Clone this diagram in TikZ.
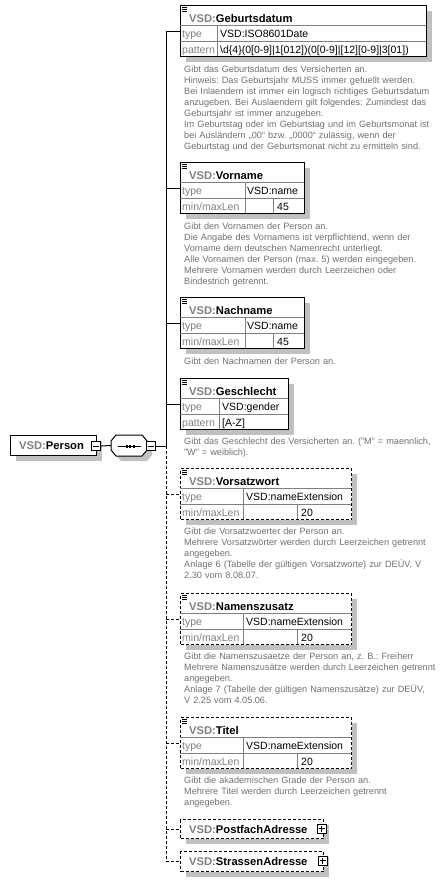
\documentclass[tikz,border=0pt]{standalone}
\usepackage{fontspec}
\setmainfont{Liberation Sans}
\usetikzlibrary{shadows}
\definecolor{txtgray}{HTML}{808080}
\definecolor{descgray}{HTML}{707070}
\definecolor{shgray}{HTML}{C0C0C0}
\definecolor{linegray}{HTML}{808080}
\frenchspacing
\newcommand\tablelines[4]{% T, L, R, c1
  \draw[rowline] (#2,#1+20) -- (#3,#1+20);
  \draw[rowline] (#2,#1+36) -- (#3,#1+36);
  \draw[rowline] (#4,#1+20) -- (#4,#1+51);
}
\newcommand\elicon[2]{% L, T
  \foreach \k in {2.5,4.5,6.5} \draw[line width=0.8pt] (#1+2,#2+\k) -- (#1+7,#2+\k);
}
\begin{document}
\frenchspacing
\begin{tikzpicture}[x=1pt,y=-1pt,
  shade5/.style={drop shadow={shadow xshift=5pt,shadow yshift=-5pt,opacity=1,fill=shgray}},
  elem/.style={draw=black, line width=1pt, fill=white, rectangle, inner sep=0pt, anchor=north west, shade5},
  optelem/.style={elem, dash pattern=on 3pt off 2pt},
  rowline/.style={draw=linegray, line width=1pt},
  hdr/.style={anchor=base west, inner sep=0pt, font=\fontsize{11.2}{13}\selectfont\bfseries},
  lbl/.style={anchor=base west, inner sep=0pt, text=txtgray, font=\fontsize{10.5}{12}\selectfont},
  val/.style={anchor=base west, inner sep=0pt, font=\fontsize{10.5}{12}\selectfont},
  desc/.style={anchor=base west, inner sep=0pt, align=left, text width=258pt, text=descgray, font=\fontsize{9.15}{11}\selectfont\frenchspacing},
  conn/.style={line width=1pt},
  optconn/.style={line width=1pt, dash pattern=on 3pt off 2pt},
  smallbox/.style={draw=black, line width=1pt, fill=white, minimum size=9pt, inner sep=0pt},
]
\useasboundingbox (0,0) rectangle (442,881);

% ---- vertical bus ----
\coordinate (vtop) at (166,31);
\coordinate (vmid) at (166,446);
\coordinate (vbot) at (166,861);
\draw[conn] (vtop) -- (vmid);
\draw[optconn] (vmid) -- (vbot);

% ---- Person ----
\node[elem, minimum width=86pt, minimum height=20pt] (person) at (10,435) {};
\node[hdr] (person-t) at (19,449.5) {\textcolor{txtgray}{VSD:}Person};
\node[smallbox] (pm) at (96,446) {};
\draw[line width=1pt] ([xshift=2pt]pm.west) -- ([xshift=-2pt]pm.east);

% sequence compositor (octagon)
\node[inner sep=0pt, minimum width=36pt, minimum height=21pt] (seq) at (129,445.5) {};
\draw[line width=1pt, fill=white, shade5] (111,441) -- (116,435) -- (142,435) -- (147,441) -- (147,450) -- (142,456) -- (116,456) -- (111,450) -- cycle;
\draw[line width=1pt] (118,446) -- (141,446);
\foreach \dx in {126.5,130,133.5} \fill (\dx-1,444.5) rectangle (\dx+1,447.5);
\node[smallbox] (sm) at (151,446) {};
\draw[line width=1pt] ([xshift=2pt]sm.west) -- ([xshift=-2pt]sm.east);
\draw[conn] (pm.east) -- (seq.west);
\draw[conn] (sm.east) -- (vmid);

% ---- Geburtsdatum ----
\node[elem, minimum width=246pt, minimum height=51pt] (geb) at (180,5) {};
\tablelines{5}{180}{426}{217}
\elicon{180}{5}
\node[hdr] (geb-h) at (189,22.5) {\textcolor{txtgray}{VSD:}Geburtsdatum};
\node[lbl] (geb-l1) at (182,37.5) {type};
\node[val] (geb-v1) at (220,37.5) {VSD:ISO8601Date};
\node[lbl] (geb-l2) at (182,53) {pattern};
\node[val] (geb-v2) at (220,53) {\textbackslash d\{4\}(0[0-9]|1[012])(0[0-9]|[12][0-9]|3[01])};
\coordinate (j1) at (166,31);
\draw[conn] (j1) -- (j1 -| geb.west);
\node[desc] (geb-d) at (184,72.5) {Gibt das Geburtsdatum des Versicherten an.\\
Hinweis: Das Geburtsjahr MUSS immer gefuellt werden.\\
Bei Inlaendern ist immer ein logisch richtiges Geburtsdatum\\
anzugeben. Bei Auslaendern gilt folgendes: Zumindest das\\
Geburtsjahr ist immer anzugeben.\\
Im Geburtstag oder im Geburtstag und im Geburtsmonat ist\\
bei Ausländern „00“ bzw. „0000“ zulässig, wenn der\\
Geburtstag und der Geburtsmonat nicht zu ermitteln sind.};

% ---- Vorname ----
\node[elem, minimum width=124pt, minimum height=51pt] (vor) at (180,162) {};
\tablelines{162}{180}{304}{245}
\draw[rowline] (273,198) -- (273,213);
\elicon{180}{162}
\node[hdr] (vor-h) at (189,179.5) {\textcolor{txtgray}{VSD:}Vorname};
\node[lbl] (vor-l1) at (182,194.5) {type};
\node[val] (vor-v1) at (247,194.5) {VSD:name};
\node[lbl] (vor-l2) at (182,210) {min/maxLen};
\node[val] (vor-v2) at (277,210) {45};
\coordinate (j2) at (166,188);
\draw[conn] (j2) -- (j2 -| vor.west);
\node[desc] (vor-d) at (184,229.5) {Gibt den Vornamen der Person an.\\
Die Angabe des Vornamens ist verpflichtend, wenn der\\
Vorname dem deutschen Namenrecht unterliegt.\\
Alle Vornamen der Person (max. 5) werden eingegeben.\\
Mehrere Vornamen werden durch Leerzeichen oder\\
Bindestrich getrennt.};

% ---- Nachname ----
\node[elem, minimum width=124pt, minimum height=51pt] (nach) at (180,297) {};
\tablelines{297}{180}{304}{245}
\draw[rowline] (273,333) -- (273,348);
\elicon{180}{297}
\node[hdr] (nach-h) at (189,314.5) {\textcolor{txtgray}{VSD:}Nachname};
\node[lbl] (nach-l1) at (182,329.5) {type};
\node[val] (nach-v1) at (247,329.5) {VSD:name};
\node[lbl] (nach-l2) at (182,345) {min/maxLen};
\node[val] (nach-v2) at (277,345) {45};
\coordinate (j3) at (166,323);
\draw[conn] (j3) -- (j3 -| nach.west);
\node[desc] (nach-d) at (184,364) {Gibt den Nachnamen der Person an.};

% ---- Geschlecht ----
\node[elem, minimum width=108pt, minimum height=51pt] (ges) at (180,378) {};
\tablelines{378}{180}{288}{219}
\elicon{180}{378}
\node[hdr] (ges-h) at (189,395.5) {\textcolor{txtgray}{VSD:}Geschlecht};
\node[lbl] (ges-l1) at (182,410.5) {type};
\node[val] (ges-v1) at (222,410.5) {VSD:gender};
\node[lbl] (ges-l2) at (182,426) {pattern};
\node[val] (ges-v2) at (222,426) {[A-Z]};
\coordinate (j4) at (166,404);
\draw[conn] (j4) -- (j4 -| ges.west);
\node[desc] (ges-d) at (184,444.5) {Gibt das Geschlecht des Versicherten an. ("M" = maennlich,\\
"W" = weiblich).};

% ---- Vorsatzwort ----
\node[optelem, minimum width=171pt, minimum height=51pt] (vsw) at (180,468) {};
\tablelines{468}{180}{351}{243}
\draw[rowline] (297,504) -- (297,519);
\elicon{180}{468}
\node[hdr] (vsw-h) at (189,485.5) {\textcolor{txtgray}{VSD:}Vorsatzwort};
\node[lbl] (vsw-l1) at (182,500.5) {type};
\node[val] (vsw-v1) at (246,500.5) {VSD:nameExtension};
\node[lbl] (vsw-l2) at (182,516) {min/maxLen};
\node[val] (vsw-v2) at (301,516) {20};
\coordinate (j5) at (166,494);
\draw[optconn] (j5) -- (j5 -| vsw.west);
\node[desc] (vsw-d) at (184,534.5) {Gibt die Vorsatzwoerter der Person an.\\
Mehrere Vorsatzwörter werden durch Leerzeichen getrennt\\
angegeben.\\
Anlage 6 (Tabelle der gültigen Vorsatzworte) zur DEÜV, V\\
2.30 vom 8.08.07.};

% ---- Namenszusatz ----
\node[optelem, minimum width=171pt, minimum height=51pt] (nzs) at (180,593) {};
\tablelines{593}{180}{351}{243}
\draw[rowline] (297,629) -- (297,644);
\elicon{180}{593}
\node[hdr] (nzs-h) at (189,610.5) {\textcolor{txtgray}{VSD:}Namenszusatz};
\node[lbl] (nzs-l1) at (182,625.5) {type};
\node[val] (nzs-v1) at (246,625.5) {VSD:nameExtension};
\node[lbl] (nzs-l2) at (182,641) {min/maxLen};
\node[val] (nzs-v2) at (301,641) {20};
\coordinate (j6) at (166,619);
\draw[optconn] (j6) -- (j6 -| nzs.west);
\node[desc] (nzs-d) at (184,659.5) {Gibt die Namenszusaetze der Person an, z. B.: Freiherr\\
Mehrere Namenszusätze werden durch Leerzeichen getrennt\\
angegeben.\\
Anlage 7 (Tabelle der gültigen Namenszusätze) zur DEÜV,\\
V 2.25 vom 4.05.06.};

% ---- Titel ----
\node[optelem, minimum width=171pt, minimum height=51pt] (tit) at (180,717) {};
\tablelines{717}{180}{351}{243}
\draw[rowline] (297,753) -- (297,768);
\elicon{180}{717}
\node[hdr] (tit-h) at (189,734.5) {\textcolor{txtgray}{VSD:}Titel};
\node[lbl] (tit-l1) at (182,749.5) {type};
\node[val] (tit-v1) at (246,749.5) {VSD:nameExtension};
\node[lbl] (tit-l2) at (182,765) {min/maxLen};
\node[val] (tit-v2) at (301,765) {20};
\coordinate (j7) at (166,743);
\draw[optconn] (j7) -- (j7 -| tit.west);
\node[desc] (tit-d) at (184,783.5) {Gibt die akademischen Grade der Person an.\\
Mehrere Titel werden durch Leerzeichen getrennt\\
angegeben.};

% ---- PostfachAdresse ----
\node[optelem, minimum width=143pt, minimum height=19pt] (post) at (180,819) {};
\node[hdr] (post-h) at (189,833.5) {\textcolor{txtgray}{VSD:}PostfachAdresse};
\node[smallbox] (pp) at (321.5,828.5) {};
\draw[line width=1pt] ([xshift=2pt]pp.west) -- ([xshift=-2pt]pp.east);
\draw[line width=1pt] ([yshift=2pt]pp.south) -- ([yshift=-2pt]pp.north);
\coordinate (j8) at (166,829);
\draw[optconn] (j8) -- (j8 -| post.west);

% ---- StrassenAdresse ----
\node[optelem, minimum width=143pt, minimum height=20pt] (str) at (180,851) {};
\node[hdr] (str-h) at (189,865.5) {\textcolor{txtgray}{VSD:}StrassenAdresse};
\node[smallbox] (sp) at (322.5,860.5) {};
\draw[line width=1pt] ([xshift=2pt]sp.west) -- ([xshift=-2pt]sp.east);
\draw[line width=1pt] ([yshift=2pt]sp.south) -- ([yshift=-2pt]sp.north);
\draw[optconn] (vbot) -- (vbot -| str.west);
\end{tikzpicture}
\end{document}
